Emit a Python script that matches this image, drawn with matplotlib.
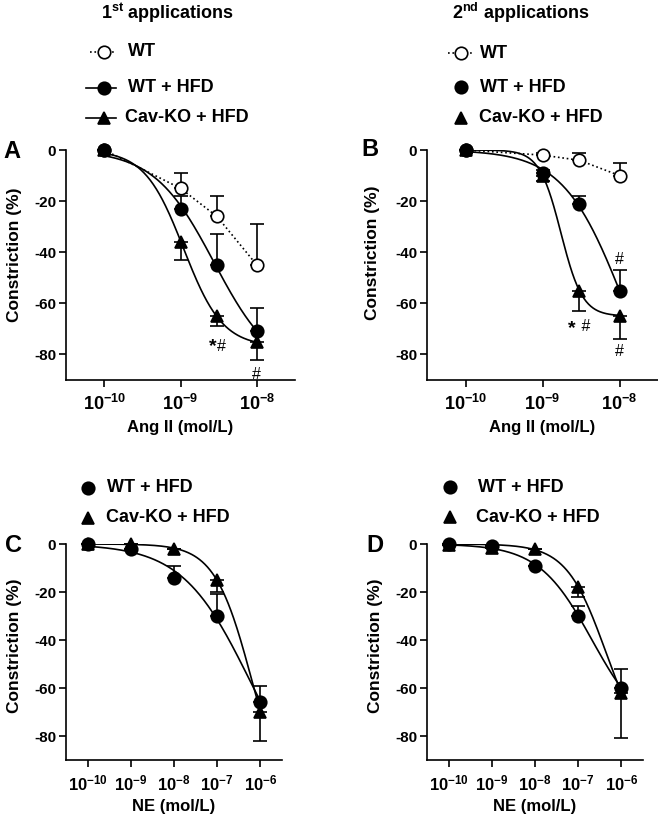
import numpy as np
import matplotlib
matplotlib.use("Agg")
import matplotlib.pyplot as plt
from matplotlib.ticker import NullLocator

plt.rcParams['font.family'] = ['Liberation Sans', 'DejaVu Sans']
plt.rcParams['font.weight'] = 'bold'
plt.rcParams['mathtext.fontset'] = 'custom'
plt.rcParams['mathtext.rm'] = 'Liberation Sans:bold'
plt.rcParams['mathtext.it'] = 'Liberation Sans:bold'
plt.rcParams['mathtext.bf'] = 'Liberation Sans:bold'
plt.rcParams['axes.unicode_minus'] = False

# concentrazioni
ang_conc = [1e-10, 1e-9, 3e-9, 1e-8]
ne_conc = [1e-10, 1e-9, 1e-8, 1e-7, 1e-6]
ang_ticks = [1e-10, 1e-9, 1e-8]
ne_ticks = [1e-10, 1e-9, 1e-8, 1e-7, 1e-6]

# A - Ang II, prima applicazione
a_wt = [0, -15, -26, -45]
a_wt_err = [0, 6, 8, 16]
a_hfd = [0, -23, -45, -71]
a_hfd_err = [0, 5, 12, 9]
a_cav = [0, -36, -65, -75]
a_cav_err = [0, 7, 4, 7]

# B - Ang II, seconda applicazione
b_wt = [0, -2, -4, -10]
b_wt_err = [0, 1, 3, 5]
b_hfd = [0, -9, -21, -55]
b_hfd_err = [0, 1, 3, 8]
b_cav = [0, -10, -55, -65]
b_cav_err = [0, 2, 8, 9]

# C - NE, prima applicazione
c_hfd = [0, -2, -14, -30, -66]
c_hfd_err = [0, 0, 5, 9, 7]
c_cav = [0, 0, -2, -15, -70]
c_cav_err = [0, 0, 0, 5, 12]

# D - NE, seconda applicazione
d_hfd = [0, -1, -9, -30, -60]
d_hfd_err = [0, 0, 0, 4, 8]
d_cav = [-0.5, -1.5, -2, -18, -62]
d_cav_err = [0, 0, 0, 4, 19]


def hill(logx, bottom, logec, h):
    return bottom / (1 + 10 ** ((logec - logx) * h))


def fit(x, y):
    # fit sigmoide (top = 0) con ricerca a griglia
    lx = np.log10(x)
    y = np.asarray(y, dtype=float)
    b = np.arange(-120, -39, 1.0)
    e = np.arange(lx.min(), lx.max() + 1.0, 0.02)
    h = np.arange(0.4, 4.01, 0.05)
    B, E, H = np.meshgrid(b, e, h, indexing='ij')
    pred = B[..., None] / (1 + 10 ** ((E[..., None] - lx) * H[..., None]))
    sse = ((pred - y) ** 2).sum(-1)
    i = np.unravel_index(sse.argmin(), sse.shape)
    return b[i[0]], e[i[1]], h[i[2]]


def curva(ax, x, y):
    p = fit(x, y)
    lx = np.linspace(np.log10(x[0]), np.log10(x[-1]), 200)
    ax.plot(10 ** lx, hill(lx, *p), color='black', lw=1.2, zorder=2)


def punti(ax, x, y, err, marker, verso, fill='black', ms=9):
    if verso == 'su':
        yerr = [np.zeros(len(err)), err]
    else:
        yerr = [err, np.zeros(len(err))]
    ax.errorbar(x, y, yerr=yerr, fmt=marker, ms=ms, mfc=fill, mec='black',
                mew=1.2, ecolor='black', elinewidth=1.2, capsize=5, capthick=1.2,
                clip_on=False, zorder=3)


def imposta(ax, ticks, xlim, xlabel, lab_x, lab_y, xsize):
    ax.set_xscale('log')
    ax.set_xlim(xlim)
    ax.set_ylim(-90, 0)
    ax.set_xticks(ticks)
    ax.set_xticklabels(['$10^{%d}$' % round(np.log10(c)) for c in ticks])
    ax.xaxis.set_minor_locator(NullLocator())
    ax.set_yticks([0, -20, -40, -60, -80])
    ax.spines['top'].set_visible(False)
    ax.spines['right'].set_visible(False)
    ax.spines['left'].set_linewidth(1.2)
    ax.spines['bottom'].set_linewidth(1.2)
    ax.tick_params(direction='out', length=5, width=1.2, labelsize=11)
    ax.tick_params(axis='y', pad=2)
    ax.tick_params(axis='x', labelsize=xsize, pad=5)
    ax.set_ylabel('Constriction (%)', fontsize=12.5, fontweight='bold')
    ax.yaxis.set_label_coords(lab_x, lab_y)
    ax.set_xlabel(xlabel, fontsize=12, fontweight='bold', labelpad=4)


fig = plt.figure(figsize=(6.58, 8.18), dpi=100)
W, H = 658, 818


def assi(l, r, t, b):
    return fig.add_axes([l / W, 1 - b / H, (r - l) / W, (b - t) / H])


axA = assi(66, 295, 150, 380)
axB = assi(427, 658, 150, 380)
axC = assi(66, 282, 544, 760)
axD = assi(427, 643, 544, 760)

ang_lim = (10 ** -10.5, 10 ** -7.5)
ne_lim = (10 ** -10.5, 10 ** -5.5)

# pannello A
axA.plot(ang_conc, a_wt, ls=':', color='black', lw=1.2, zorder=2)
curva(axA, ang_conc, a_hfd)
curva(axA, ang_conc, a_cav)
punti(axA, ang_conc, a_wt, a_wt_err, 'o', 'su', fill='white')
punti(axA, ang_conc, a_hfd, a_hfd_err, 'o', 'su')
punti(axA, ang_conc, a_cav, a_cav_err, '^', 'giu')
imposta(axA, ang_ticks, ang_lim, 'Ang II (mol/L)', -0.192, 0.545, 13)
axA.text(3e-9, -77, '*', ha='right', va='center', fontsize=14, fontweight='bold')
axA.text(3e-9, -77, '#', ha='left', va='center', fontsize=11.5, fontweight='normal')
axA.text(1e-8, -88, '#', ha='center', va='center', fontsize=11.5, fontweight='normal')

# pannello B
axB.plot(ang_conc, b_wt, ls=':', color='black', lw=1.2, zorder=2)
curva(axB, ang_conc, b_hfd)
curva(axB, ang_conc, b_cav)
punti(axB, ang_conc, b_wt, b_wt_err, 'o', 'su', fill='white')
punti(axB, ang_conc, b_hfd, b_hfd_err, 'o', 'su')
punti(axB, ang_conc, b_cav, b_cav_err, '^', 'giu')
imposta(axB, ang_ticks, ang_lim, 'Ang II (mol/L)', -0.203, 0.555, 13)
axB.text(2.7e-9, -70, '*', ha='right', va='center', fontsize=14, fontweight='bold')
axB.text(2.8e-9, -69, ' #', ha='left', va='center', fontsize=11.5, fontweight='normal')
axB.text(1e-8, -43, '#', ha='center', va='center', fontsize=11.5, fontweight='normal')
axB.text(1e-8, -79, '#', ha='center', va='center', fontsize=11.5, fontweight='normal')

# pannello C
curva(axC, ne_conc, c_hfd)
curva(axC, ne_conc, c_cav)
punti(axC, ne_conc, c_hfd, c_hfd_err, 'o', 'su')
punti(axC, ne_conc, c_cav, c_cav_err, '^', 'giu')
imposta(axC, ne_ticks, ne_lim, 'NE (mol/L)', -0.204, 0.53, 12)

# pannello D
curva(axD, ne_conc, d_hfd)
curva(axD, ne_conc, d_cav)
punti(axD, ne_conc, d_hfd, d_hfd_err, 'o', 'su')
punti(axD, ne_conc, d_cav, d_cav_err, '^', 'giu')
imposta(axD, ne_ticks, ne_lim, 'NE (mol/L)', -0.204, 0.53, 12)


# legende disegnate a mano in coordinate figura
def voce(x_m, y, testo, marker, fill='black', linea=None, x_t=None, x0=None, x1=None):
    fx = lambda v: v / W
    fy = lambda v: 1 - v / H
    if linea is not None:
        fig.add_artist(plt.Line2D([fx(x0), fx(x1)], [fy(y), fy(y)], ls=linea,
                                  color='black', lw=1.2))
    fig.add_artist(plt.Line2D([fx(x_m)], [fy(y)], marker=marker, ms=9, mfc=fill,
                              mec='black', mew=1.2, ls='none'))
    fig.text(fx(x_t), fy(y), testo, ha='left', va='center', fontsize=13,
             fontweight='bold')


voce(104, 52, 'WT', 'o', fill='white', linea=':', x0=90, x1=116, x_t=128)
voce(104, 88, 'WT + HFD', 'o', linea='-', x0=86, x1=116, x_t=128)
voce(104, 118, 'Cav-KO + HFD', '^', linea='-', x0=86, x1=116, x_t=125)

voce(461, 53, 'WT', 'o', fill='white', linea=':', x0=448, x1=473, x_t=480)
voce(461, 87, 'WT + HFD', 'o', x_t=480)
voce(461, 118, 'Cav-KO + HFD', '^', x_t=479)

voce(88, 488, 'WT + HFD', 'o', x_t=107)
voce(88, 518, 'Cav-KO + HFD', '^', x_t=106)

voce(450, 487, 'WT + HFD', 'o', x_t=478)
voce(450, 517, 'Cav-KO + HFD', '^', x_t=476)

# titoli e lettere dei pannelli
fig.text(168 / W, 1 - 13 / H, '1$^{st}$ applications', ha='center', va='center',
         fontsize=13, fontweight='bold')
fig.text(521 / W, 1 - 13 / H, '2$^{nd}$ applications', ha='center', va='center',
         fontsize=13, fontweight='bold')
for lettera, x, y in [('A', 12, 151), ('B', 370, 150), ('C', 14, 545), ('D', 375, 545)]:
    fig.text(x / W, 1 - y / H, lettera, ha='center', va='center', fontsize=17,
             fontweight='bold')

fig.savefig('out.png', dpi=100)
